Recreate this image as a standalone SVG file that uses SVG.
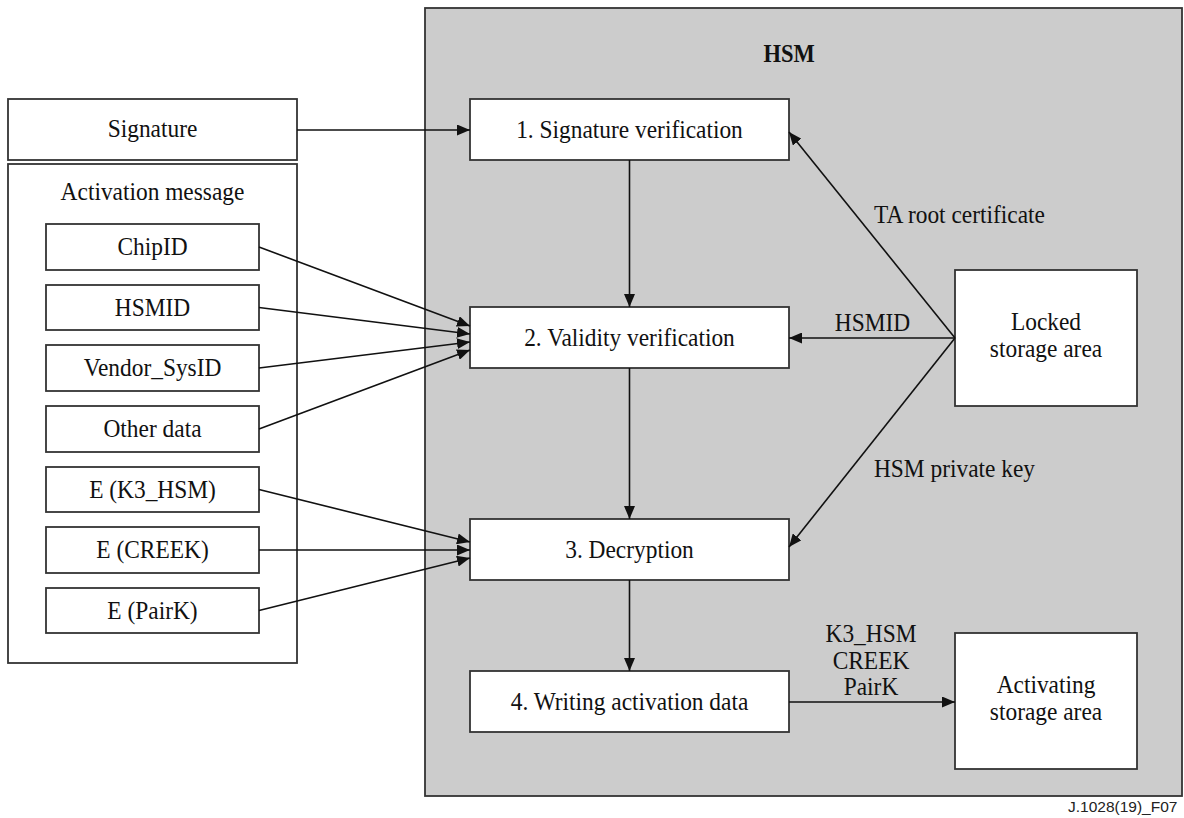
<svg xmlns="http://www.w3.org/2000/svg" width="1184" height="818" viewBox="0 0 1184 818">
  <style>
    .box { fill: #ffffff; stroke: #333333; stroke-width: 1.8; }
    .hsm { fill: #cccccc; stroke: #333333; stroke-width: 1.8; }
    .t { font-family: "Liberation Serif", "Times New Roman", serif; font-size: 26px; fill: #111111; text-anchor: middle; }
    .b { font-weight: bold; font-size: 25px; }
    .ln { stroke: #111111; stroke-width: 1.6; fill: none; }
    .arr { marker-end: url(#ah); }
    .foot { font-family: "Liberation Sans", Arial, sans-serif; font-size: 15.5px; fill: #222222; }
  </style>
  <defs>
    <marker id="ah" markerWidth="13" markerHeight="11" refX="13" refY="5.5" orient="auto" markerUnits="userSpaceOnUse">
      <path d="M0,0 L13,5.5 L0,11 z" fill="#111111"/>
    </marker>
  </defs>

  <rect width="1184" height="818" fill="#ffffff"/>

  <!-- HSM enclosure -->
  <g id="hsm">
    <rect class="hsm" x="425" y="8" width="757" height="788"/>
    <text class="t b" transform="translate(789 62) scale(0.9 1)">HSM</text>
  </g>

  <!-- Input side -->
  <g id="signature">
    <rect class="box" x="8" y="99" width="289" height="61"/>
    <text class="t" transform="translate(152.5 137) scale(0.9 1)">Signature</text>
  </g>
  <g id="activation-message">
    <rect class="box" x="8" y="164" width="289" height="499"/>
    <text class="t" transform="translate(152.5 200) scale(0.9 1)">Activation message</text>
  </g>
  <g id="chipid">
    <rect class="box" x="46" y="224" width="213" height="46"/>
    <text class="t" transform="translate(152.5 255) scale(0.9 1)">ChipID</text>
  </g>
  <g id="hsmid">
    <rect class="box" x="46" y="285" width="213" height="45"/>
    <text class="t" transform="translate(152.5 315.5) scale(0.9 1)">HSMID</text>
  </g>
  <g id="vendor-sysid">
    <rect class="box" x="46" y="345" width="213" height="46"/>
    <text class="t" transform="translate(152.5 376) scale(0.9 1)">Vendor_SysID</text>
  </g>
  <g id="other-data">
    <rect class="box" x="46" y="406" width="213" height="46"/>
    <text class="t" transform="translate(152.5 437) scale(0.9 1)">Other data</text>
  </g>
  <g id="e-k3-hsm">
    <rect class="box" x="46" y="467" width="213" height="45"/>
    <text class="t" transform="translate(152.5 497.5) scale(0.9 1)">E (K3_HSM)</text>
  </g>
  <g id="e-creek">
    <rect class="box" x="46" y="527" width="213" height="46"/>
    <text class="t" transform="translate(152.5 558) scale(0.9 1)">E (CREEK)</text>
  </g>
  <g id="e-pairk">
    <rect class="box" x="46" y="588" width="213" height="45"/>
    <text class="t" transform="translate(152.5 618.5) scale(0.9 1)">E (PairK)</text>
  </g>

  <!-- Processing steps -->
  <g id="step1">
    <rect class="box" x="470" y="99" width="319" height="61"/>
    <text class="t" transform="translate(629.5 137.5) scale(0.9 1)">1. Signature verification</text>
  </g>
  <g id="step2">
    <rect class="box" x="470" y="307" width="319" height="61"/>
    <text class="t" transform="translate(629.5 345.5) scale(0.9 1)">2. Validity verification</text>
  </g>
  <g id="step3">
    <rect class="box" x="470" y="519" width="319" height="61"/>
    <text class="t" transform="translate(629.5 557.5) scale(0.9 1)">3. Decryption</text>
  </g>
  <g id="step4">
    <rect class="box" x="470" y="671" width="319" height="61"/>
    <text class="t" transform="translate(629.5 709.5) scale(0.9 1)">4. Writing activation data</text>
  </g>

  <!-- Storage areas -->
  <g id="locked-storage">
    <rect class="box" x="955" y="270" width="182" height="136"/>
    <text class="t" transform="translate(1046 330) scale(0.9 1)">Locked</text>
    <text class="t" transform="translate(1046 357) scale(0.9 1)">storage area</text>
  </g>
  <g id="activating-storage">
    <rect class="box" x="955" y="633" width="182" height="136"/>
    <text class="t" transform="translate(1046 693) scale(0.9 1)">Activating</text>
    <text class="t" transform="translate(1046 720) scale(0.9 1)">storage area</text>
  </g>

  <!-- Connectors -->
  <g id="connectors">
    <line class="ln arr" x1="297" y1="130" x2="470" y2="130"/>

    <line class="ln arr" x1="259" y1="247" x2="470" y2="326"/>
    <line class="ln arr" x1="259" y1="307.5" x2="470" y2="334"/>
    <line class="ln arr" x1="259" y1="368" x2="470" y2="342"/>
    <line class="ln arr" x1="259" y1="429" x2="470" y2="350"/>

    <line class="ln arr" x1="259" y1="489.5" x2="470" y2="542"/>
    <line class="ln arr" x1="259" y1="550" x2="470" y2="550"/>
    <line class="ln arr" x1="259" y1="610.5" x2="470" y2="558"/>

    <line class="ln arr" x1="629.5" y1="160" x2="629.5" y2="307"/>
    <line class="ln arr" x1="629.5" y1="368" x2="629.5" y2="519"/>
    <line class="ln arr" x1="629.5" y1="580" x2="629.5" y2="671"/>

    <line class="ln arr" x1="955" y1="338" x2="789" y2="132"/>
    <line class="ln arr" x1="955" y1="338" x2="789" y2="338"/>
    <line class="ln arr" x1="955" y1="338" x2="789" y2="547"/>

    <line class="ln arr" x1="789" y1="702" x2="955" y2="702"/>

    <text class="t" transform="translate(959.5 223) scale(0.9 1)">TA root certificate</text>
    <text class="t" transform="translate(872.5 331) scale(0.9 1)">HSMID</text>
    <text class="t" transform="translate(954.5 477) scale(0.9 1)">HSM private key</text>
    <text class="t" transform="translate(871 642) scale(0.9 1)">K3_HSM</text>
    <text class="t" transform="translate(871 669) scale(0.9 1)">CREEK</text>
    <text class="t" transform="translate(871 695) scale(0.9 1)">PairK</text>
  </g>

  <text class="foot" x="1068" y="812">J.1028(19)_F07</text>
</svg>
